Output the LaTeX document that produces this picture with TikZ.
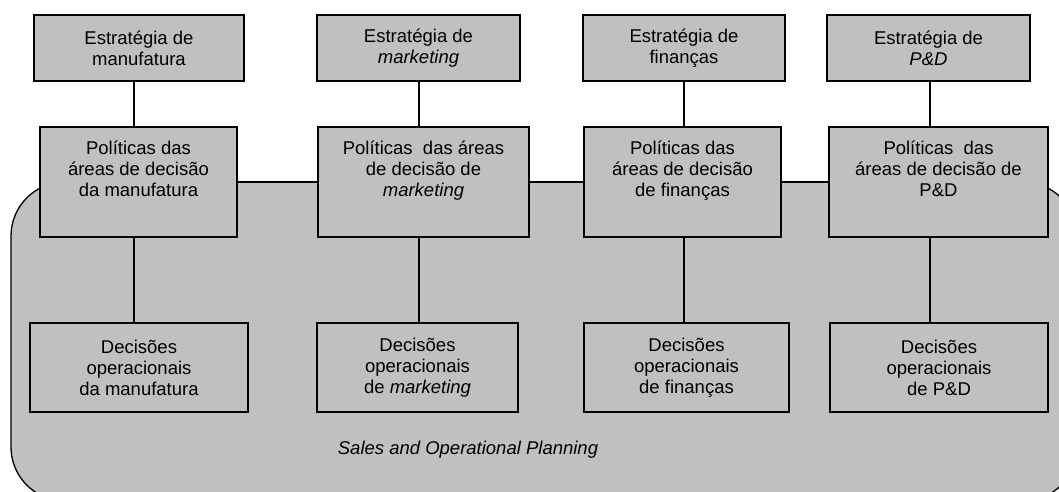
\documentclass[tikz,border=0pt]{standalone}
\usepackage{fontspec}
\setmainfont{Liberation Sans}
\definecolor{boxgray}{HTML}{C0C0C0}
\begin{document}
\begin{tikzpicture}[x=1pt,y=-1pt]
\tikzset{box/.style = {shape=rectangle,draw,fill=boxgray,line width=1.2pt,inner sep=0pt,align=center,font=\fontsize{18.5}{21}\selectfont}}
\tikzset{strategy/.style = {box,minimum height=66pt}}
\tikzset{policy/.style = {box,minimum height=110pt}}
\tikzset{decision/.style = {box,minimum height=89pt}}
\tikzset{edge/.style = {-,line width=1.2pt}}
\useasboundingbox (0,0) rectangle (1059,492);
% shaded area: sales and operational planning
\draw[fill=boxgray,line width=1.3pt,rounded corners=54pt] (11,182) rectangle (1077,501);
\node[font=\itshape\fontsize{18.5}{21}\selectfont] (sop) at (468,450) {Sales and Operational Planning};
% strategies on the top
\node[strategy,minimum width=210pt] (ts1) at (139,48) {Estratégia de\\manufatura};
\node[strategy,minimum width=203pt] (ts2) at (418.5,48) {Estratégia de\\\textit{marketing}};
\node[strategy,minimum width=202pt] (ts3) at (684,48) {Estratégia de\\finanças};
\node[strategy,minimum width=203pt] (ts4) at (928.5,48) {Estratégia de\\\textit{P\&D}};
% policies in the middle
\node[policy,minimum width=197pt] (mp1) at (138.5,182) {Políticas das\\áreas de decisão\\da manufatura\\\strut};
\node[policy,minimum width=211pt] (mp2) at (423.5,182) {Políticas\ \ das áreas\\de decisão de\\\textit{marketing}\\\strut};
\node[policy,minimum width=197pt] (mp3) at (682.5,182) {Políticas das\\áreas de decisão\\de finanças\\\strut};
\node[policy,minimum width=219pt] (mp4) at (938.5,182) {Políticas\ \ das\\áreas de decisão de\\P\&D\\\strut};
% operational decisions at the bottom
\node[decision,minimum width=218pt] (od1) at (139,367.5) {Decisões\\operacionais\\da manufatura};
\node[decision,minimum width=201pt] (od2) at (417.5,367.5) {Decisões\\operacionais\\de \textit{marketing}};
\node[decision,minimum width=205pt] (od3) at (686.5,367.5) {Decisões\\operacionais\\de finanças};
\node[decision,minimum width=218pt] (od4) at (939,367.5) {Decisões\\operacionais\\de P\&D};
% one vertical line per area
\coordinate (s1) at (134,0);
\coordinate (s2) at (419,0);
\coordinate (s3) at (684,0);
\coordinate (s4) at (930,0);
\draw[edge] (ts1.south -| s1) to (mp1.north -| s1);
\draw[edge] (ts2.south -| s2) to (mp2.north -| s2);
\draw[edge] (ts3.south -| s3) to (mp3.north -| s3);
\draw[edge] (ts4.south -| s4) to (mp4.north -| s4);
\draw[edge] (mp1.south -| s1) to (od1.north -| s1);
\draw[edge] (mp2.south -| s2) to (od2.north -| s2);
\draw[edge] (mp3.south -| s3) to (od3.north -| s3);
\draw[edge] (mp4.south -| s4) to (od4.north -| s4);
% policies linked side by side
\draw[edge] (mp1) to (mp2);
\draw[edge] (mp2) to (mp3);
\draw[edge] (mp3) to (mp4);
\end{tikzpicture}
\end{document}
